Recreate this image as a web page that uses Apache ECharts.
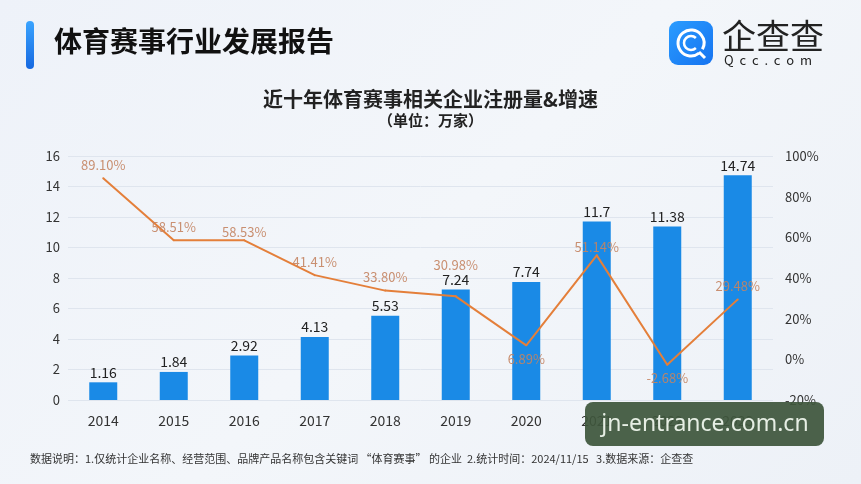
<!DOCTYPE html>
<html>
<head>
<meta charset="utf-8">
<script src="https://cdn.jsdelivr.net/npm/echarts@6/dist/echarts.min.js"></script>
<style>
  html, body { margin: 0; padding: 0; }
  #chart { width: 861px; height: 484px; background: linear-gradient(135deg, #eef2f9 0%, #f3f6fa 50%, #edf1f7 100%); }
</style>
</head>
<body>
<div id="chart"></div>
<script>
// 年份
var years = ["2014", "2015", "2016", "2017", "2018", "2019", "2020", "2021", "2022", "2023"];
// 注册量（万家）
var counts = [1.16, 1.84, 2.92, 4.13, 5.53, 7.24, 7.74, 11.7, 11.38, 14.74];
// 增速（%）
var growth = [89.10, 58.51, 58.53, 41.41, 33.80, 30.98, 6.89, 51.14, -2.68, 29.48];
// 增速标签放在点下方的年份
var belowIdx = [6, 8];

var font = '"Noto Sans CJK SC", "Noto Sans", sans-serif';
var chart = echarts.init(document.getElementById("chart"));

var lineData = growth.map(function (v, i) {
  var item = { value: v };
  if (belowIdx.indexOf(i) >= 0) {
    item.label = { position: "bottom", distance: 6 };
  } else if (i === 5) {
    item.label = { distance: 24 };
  } else if (i === 2 || i === 7) {
    item.label = { distance: 1 };
  }
  return item;
});

chart.setOption({
  backgroundColor: "transparent",
  textStyle: { fontFamily: font },
  title: [
    {
      text: "近十年体育赛事相关企业注册量&增速",
      left: "center",
      top: 84,
      textStyle: { fontSize: 20, fontWeight: "bold", color: "#222", fontFamily: font },
    },
    {
      text: "（单位：万家）",
      left: "center",
      top: 108,
      textStyle: { fontSize: 15, fontWeight: "bold", color: "#222", fontFamily: font },
    },
  ],
  grid: { left: 68, right: 88, top: 156, bottom: 84 },
  xAxis: {
    type: "category",
    data: years,
    axisLine: { show: false },
    axisTick: { show: false },
    axisLabel: { color: "#333", fontSize: 14, margin: 14 },
  },
  yAxis: [
    {
      type: "value",
      min: 0,
      max: 16,
      interval: 2,
      axisLabel: { color: "#333", fontSize: 13, margin: 8 },
      splitLine: { lineStyle: { color: "#dfe5ee" } },
    },
    {
      type: "value",
      min: -20,
      max: 100,
      interval: 20,
      axisLabel: { color: "#333", fontSize: 13, formatter: "{value}%", margin: 12 },
      splitLine: { show: false },
    },
  ],
  series: [
    {
      type: "bar",
      data: counts,
      barWidth: 28,
      itemStyle: { color: "#1a8ae6" },
      label: { show: true, position: "top", color: "#222", fontSize: 14, distance: 3 },
    },
    {
      type: "line",
      yAxisIndex: 1,
      data: lineData,
      symbol: "circle",
      symbolSize: 2,
      showSymbol: true,
      itemStyle: { color: "#e47f3a" },
      lineStyle: { color: "#e47f3a", width: 2 },
      label: {
        show: true,
        position: "top",
        distance: 6,
        color: "rgba(196,132,98,0.9)",
        fontSize: 13,
        formatter: function (p) { return Number(p.value).toFixed(2) + "%"; },
      },
      z: 5,
    },
  ],
  graphic: [
    {
      type: "rect",
      shape: { x: 26, y: 21, width: 8, height: 48, r: 4 },
      style: {
        fill: new echarts.graphic.LinearGradient(0, 0, 0, 1, [
          { offset: 0, color: "#3aa4ff" },
          { offset: 1, color: "#1668e0" },
        ]),
      },
    },
    {
      type: "text",
      left: 54,
      top: 27,
      style: { text: "体育赛事行业发展报告", font: "bold 28px " + font, fill: "#111" },
    },
    {
      type: "rect",
      shape: { x: 669, y: 21, width: 44, height: 44, r: 9 },
      style: {
        fill: new echarts.graphic.LinearGradient(0, 0, 1, 1, [
          { offset: 0, color: "#2a9cff" },
          { offset: 1, color: "#1673f0" },
        ]),
      },
    },
    {
      type: "arc",
      shape: { cx: 691, cy: 43, r: 13, startAngle: 0.9, endAngle: 0.5 + Math.PI * 2 },
      style: { stroke: "#fff", lineWidth: 3, fill: null },
    },
    {
      type: "arc",
      shape: { cx: 691, cy: 43, r: 7, startAngle: 0.8, endAngle: -0.8 + Math.PI * 2 },
      style: { stroke: "#fff", lineWidth: 2.5, fill: null },
    },
    {
      type: "line",
      shape: { x1: 699, y1: 52, x2: 705, y2: 58 },
      style: { stroke: "#fff", lineWidth: 3 },
    },
    {
      type: "text",
      left: 722,
      top: 19,
      style: { text: "企查查", font: "34px " + font, fill: "#222" },
    },
    {
      type: "text",
      left: 724,
      top: 54,
      style: { text: "Q  c  c  .  c  o  m", font: "13px " + font, fill: "#222" },
    },
    {
      type: "text",
      left: 30,
      top: 453,
      style: {
        text: "数据说明：1.仅统计企业名称、经营范围、品牌产品名称包含关键词 “体育赛事” 的企业  2.统计时间：2024/11/15   3.数据来源：企查查",
        font: "11px " + font,
        fill: "#333",
      },
    },
    {
      type: "rect",
      shape: { x: 585, y: 402, width: 239, height: 44, r: 8 },
      style: { fill: "rgba(62,86,60,0.93)" },
      z: 100,
    },
    {
      type: "text",
      x: 705,
      y: 424,
      style: {
        text: "jn-entrance.com.cn",
        font: '23px "Noto Sans", sans-serif',
        fill: "#e6eee4",
        align: "center",
        verticalAlign: "middle",
      },
      z: 101,
    },
  ],
});
</script>
</body>
</html>
